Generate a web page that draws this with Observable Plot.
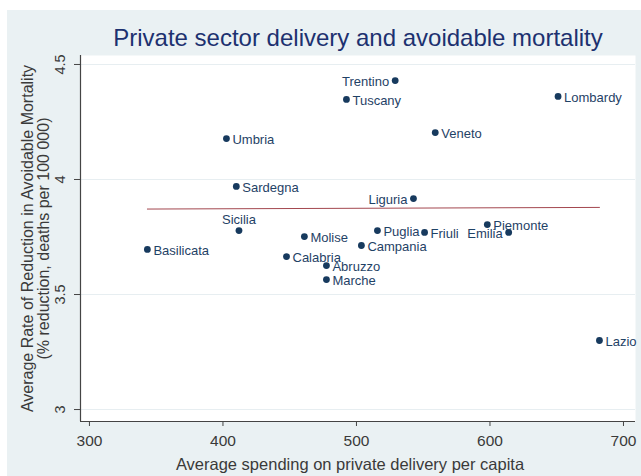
<!DOCTYPE html>
<html><head><meta charset="utf-8">
<script src="https://cdn.jsdelivr.net/npm/d3@7"></script>
<script src="https://cdn.jsdelivr.net/npm/@observablehq/plot@0.6"></script>
<style>
html,body{margin:0;padding:0;background:#fff;width:641px;height:476px;overflow:hidden;}
#wrap{position:absolute;left:7px;top:10px;width:634px;height:466px;background:#eaf1f3;}
#title{position:absolute;left:0;top:26px;width:716px;text-align:center;font:24px "Liberation Sans",Arial,sans-serif;line-height:24px;color:#1d3170;white-space:nowrap;}
#chart{position:absolute;left:0;top:50px;}
</style></head><body>
<div id="wrap"></div>
<div id="title">Private sector delivery and avoidable mortality</div>
<div id="chart"></div>
<script>
const regions = ["Trentino","Tuscany","Umbria","Sardegna","Liguria","Sicilia","Molise","Basilicata","Calabria","Abruzzo","Marche","Puglia","Campania","Friuli","Piemonte","Emilia","Veneto","Lombardy","Lazio"];
const spending = [529, 492.5, 402.6, 410, 542.7, 412, 461, 343.4, 447.6, 477.5, 477.5, 515.7, 503.7, 551, 598, 614, 559, 651, 682];
const mortalityReduction = [4.43, 4.348, 4.178, 3.97, 3.917, 3.778, 3.752, 3.696, 3.665, 3.626, 3.565, 3.778, 3.713, 3.77, 3.804, 3.77, 4.204, 4.361, 3.30];
// marker label clock positions (3 = right, 9 = left, 12 = above)
const labelClock = [9, 3, 3, 3, 9, 12, 3, 3, 3, 3, 3, 3, 3, 3, 3, 9, 3, 3, 3];
const xTicks = [300, 400, 500, 600, 700];
const yTicks = [3, 3.5, 4, 4.5];
const xTitle = "Average spending on private delivery per capita";
const yTitle = ["Average Rate of Reduction in Avoidable Mortality", "(% reduction, deaths per 100 000)"];

const data = regions.map((r, i) => ({region: r, x: spending[i], y: mortalityReduction[i], clock: labelClock[i]}));
const xDomain = [293.3, 709];
const yDomain = [2.948, 4.539];
const font = '"Liberation Sans", Arial, sans-serif';
const labelColor = "#1f4266";
const dotColor = "#173a5e";
const textColor = "#3a3a3a";

const chart = Plot.plot({
  width: 641,
  height: 426,
  marginTop: 5,
  marginBottom: 55,
  marginLeft: 80,
  marginRight: 6,
  style: {fontFamily: font, color: textColor, background: "transparent", overflow: "visible"},
  x: {domain: xDomain},
  y: {domain: yDomain},
  marks: [
    Plot.frame({fill: "white", stroke: null}),
    Plot.ruleY(yTicks, {stroke: "#e7eef1", strokeWidth: 1}),
    Plot.ruleX([xDomain[0]], {stroke: "#444", strokeWidth: 1.2}),
    Plot.ruleY([yDomain[0]], {stroke: "#444", strokeWidth: 1.2}),
    Plot.axisX(xTicks, {tickSize: 5, tickPadding: 8, fontSize: 15.5, label: null, stroke: "#444", fill: textColor}),
    Plot.axisY(yTicks, {tickSize: 6, tickFormat: () => "", label: null, stroke: "#444"}),
    Plot.text(yTicks, {y: d => d, text: d => String(d), frameAnchor: "left", textAnchor: "middle", lineAnchor: "middle", rotate: -90, dx: -20, fontSize: 14.5, fill: textColor}),
    Plot.text([yTitle.join("\n")], {frameAnchor: "left", textAnchor: "middle", lineAnchor: "middle", rotate: -90, dx: -45, fontSize: 16, lineHeight: 1.0, fill: textColor}),
    Plot.text([xTitle], {frameAnchor: "bottom", textAnchor: "middle", lineAnchor: "middle", dx: -8, dy: 43.7, fontSize: 16.5, fill: textColor}),
    Plot.linearRegressionY(data, {x: "x", y: "y", stroke: "#a3474f", strokeWidth: 1, ci: 0}),
    Plot.dot(data, {x: "x", y: "y", r: 3.4, fill: dotColor, stroke: null}),
    Plot.text(data.filter(d => d.clock === 3), {x: "x", y: "y", text: "region", textAnchor: "start", dx: 6, dy: 1, fontSize: 13, fill: labelColor}),
    Plot.text(data.filter(d => d.clock === 9), {x: "x", y: "y", text: "region", textAnchor: "end", dx: -6, dy: 1, fontSize: 13, fill: labelColor}),
    Plot.text(data.filter(d => d.clock === 12), {x: "x", y: "y", text: "region", dy: -11, fontSize: 13, fill: labelColor})
  ]
});
document.getElementById("chart").appendChild(chart);
</script>
</body></html>
